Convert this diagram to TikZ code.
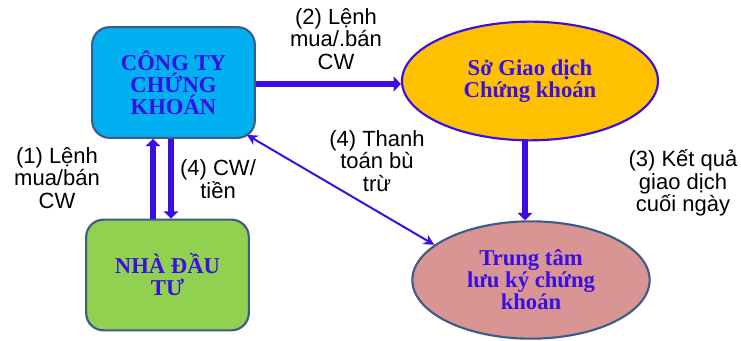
\documentclass[tikz,border=0pt]{standalone}
\usepackage{fontspec}
\setmainfont{Liberation Serif}
\setsansfont{Liberation Sans}
\usetikzlibrary{calc,shapes.geometric,arrows.meta}

\definecolor{flowblue}{RGB}{58,15,228}
\definecolor{boxedge}{RGB}{62,92,138}
\definecolor{ctckfill}{RGB}{0,176,240}
\definecolor{ndtfill}{RGB}{146,208,80}
\definecolor{sgdfill}{RGB}{255,192,0}
\definecolor{ttlkfill}{RGB}{217,149,148}

\begin{document}
\begin{tikzpicture}[x=0.75pt,y=-0.75pt]
    \tikzstyle{every node}=[align=center]
    \tikzstyle{unit}=[font=\bfseries\fontsize{17}{16.5}\selectfont, text=flowblue, line width=1.6pt]
    \tikzstyle{box}=[unit, rectangle, rounded corners=13pt, draw=boxedge,
        minimum width=122pt, minimum height=83pt]
    \tikzstyle{oval}=[unit, ellipse, inner sep=0pt]
    \tikzstyle{flow}=[draw=flowblue, line width=5pt, -{Triangle[width=11pt,length=5.5pt]}]
    \tikzstyle{thin flow}=[draw=flowblue, line width=1.5pt, {Stealth[length=8pt,width=8pt]}-{Stealth[length=8pt,width=8pt]}]
    \tikzstyle{note}=[font=\sffamily\fontsize{16.5}{17}\selectfont]
    \useasboundingbox (0,0) rectangle (741,341);
    % units
    \node[box, fill=ctckfill] (CTCK) at (173.5,82.5) {CÔNG TY\\CHỨNG\\KHOÁN};
    \node[box, fill=ndtfill] (NDT) at (167.5,275) {NHÀ ĐẦU\\TƯ};
    \node[oval, fill=sgdfill, draw=flowblue, minimum width=192pt, minimum height=89pt] (SGD) at (530,81) {Sở Giao dịch\\Chứng khoán};
    \node[oval, fill=ttlkfill, draw=boxedge, minimum width=178pt, minimum height=88pt] (TTLK) at (531,280) {Trung tâm\\lưu ký chứng\\khoán};
    % flows
    \draw[flow] ($(NDT.north)+(-14.5,0)$) -- ($(CTCK.south)+(-20.5,0)$);
    \draw[flow] ($(CTCK.south)+(-2.5,0)$) -- ($(NDT.north)+(3.5,0)$);
    \draw[flow] (CTCK.east |- 0,84) -- (SGD.west |- 0,84);
    \draw[flow] ($(SGD.south)+(-5,0)$) -- ($(TTLK.north)+(-6,0)$);
    \draw[thin flow] ($(CTCK.south east)+(-9,-4)$) -- (TTLK.160);
    % labels
    \node[note] (L1) at (57,178) {(1) Lệnh\\mua/bán\\CW};
    \node[note] (L2) at (336,39) {(2) Lệnh\\mua/.bán\\CW};
    \node[note] (L3) at (683,183) {(3) Kết quả\\giao dịch\\cuối ngày};
    \node[note] (L4a) at (218,179) {(4) CW/\\tiền};
    \node[note] (L4b) at (377,161) {(4) Thanh\\toán bù\\trừ};
\end{tikzpicture}
\end{document}
